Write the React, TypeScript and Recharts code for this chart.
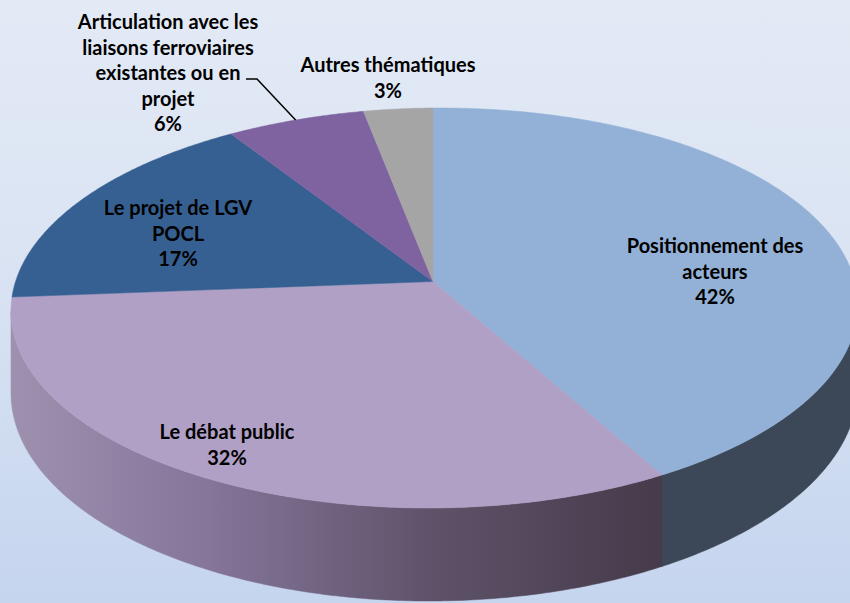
import React from 'react';
import { PieChart, Pie } from 'recharts';

// ---------------- data ----------------
const categoryLines: string[][] = [
  ['Positionnement des', 'acteurs'],
  ['Le débat public'],
  ['Le projet de LGV', 'POCL'],
  ['Articulation avec les', 'liaisons ferroviaires', 'existantes ou en', 'projet'],
  ['Autres thématiques'],
];
const shares = [42, 32, 17, 6, 3];

// ---------------- styles / layout ----------------
const topColors = ['#93b1d6', '#b1a0c6', '#366092', '#7f63a1', '#a5a5a5'];
const wallColors = ['#3c4858', 'url(#wallDebat)', '#24426a', '#55416e', '#6e6e6e'];
const labelAnchors: [number, number][] = [
  [715, 246],
  [227, 432],
  [178, 208],
  [168, 22],
  [388, 65],
];
const LINE_H = 25.5;
const FONT = 20;

const W = 850;
const H = 603;
const CX = 433;
const CY = 278;
const R = 420;
const DEPTH = 93;

// calibration of the tilted (perspective) view: rim angle -> screen point
const RIM_ANGLES = [90, 183.6, -61.2, -90];
const RIM_SCREEN: [number, number][] = [
  [433, 108],
  [12, 297],
  [662, 475],
  [433, 508],
];

function solveHomography() {
  const A: number[][] = [];
  const b: number[] = [];
  for (let i = 0; i < 4; i++) {
    const t = (RIM_ANGLES[i] * Math.PI) / 180;
    const u = Math.cos(t);
    const v = Math.sin(t);
    const x = (RIM_SCREEN[i][0] - CX) / R;
    const y = (RIM_SCREEN[i][1] - CY) / R;
    A.push([u, v, 1, 0, 0, 0, -u * x, -v * x]);
    b.push(x);
    A.push([0, 0, 0, u, v, 1, -u * y, -v * y]);
    b.push(y);
  }
  const n = 8;
  for (let c = 0; c < n; c++) {
    let p = c;
    for (let r = c + 1; r < n; r++) if (Math.abs(A[r][c]) > Math.abs(A[p][c])) p = r;
    [A[c], A[p]] = [A[p], A[c]];
    [b[c], b[p]] = [b[p], b[c]];
    for (let r = 0; r < n; r++) {
      if (r === c) continue;
      const f = A[r][c] / A[c][c];
      for (let k = c; k < n; k++) A[r][k] -= f * A[c][k];
      b[r] -= f * b[c];
    }
  }
  return b.map((val, i) => val / A[i][i]);
}
const HM = solveHomography();

function wOf(u: number, v: number) {
  return HM[6] * u + HM[7] * v + 1;
}
const W_FRONT = wOf(0, -1);

function project(cx: number, cy: number, r: number, angleDeg: number, frac: number, drop: number) {
  const t = (angleDeg * Math.PI) / 180;
  const u = Math.cos(t) * frac;
  const v = Math.sin(t) * frac;
  const w = wOf(u, v);
  const x = cx + (r * (HM[0] * u + HM[1] * v + HM[2])) / w;
  const y = cy + (r * (HM[3] * u + HM[4] * v + HM[5])) / w + (drop * W_FRONT) / w;
  return [x, y];
}

// silhouette tangent angles (extreme x of the rim)
function findTangents() {
  let minX = Infinity;
  let tl = 180;
  let maxX = -Infinity;
  let tr = 0;
  for (let a = 90; a <= 270; a += 0.25) {
    const [x] = project(CX, CY, R, a, 1, 0);
    if (x < minX) {
      minX = x;
      tl = a;
    }
  }
  for (let a = -90; a <= 90; a += 0.25) {
    const [x] = project(CX, CY, R, a, 1, 0);
    if (x > maxX) {
      maxX = x;
      tr = a;
    }
  }
  return [tl - 360, tr];
}
const FRONT = findTangents();

function arcPoints(cx: number, cy: number, r: number, a1: number, a2: number, drop: number) {
  const pts: number[][] = [];
  const steps = Math.max(2, Math.ceil(Math.abs(a2 - a1) / 0.5));
  for (let i = 0; i <= steps; i++) {
    const a = a1 + ((a2 - a1) * i) / steps;
    pts.push(project(cx, cy, r, a, 1, drop));
  }
  return pts;
}

function toPath(pts: number[][]) {
  return 'M' + pts.map((p) => `${p[0].toFixed(2)},${p[1].toFixed(2)}`).join('L') + 'Z';
}

const data = categoryLines.map((lines, i) => ({ name: lines.join(' '), value: shares[i] }));

function indexOf(props: any) {
  if (typeof props.index === 'number') return props.index;
  const name = props?.payload?.name ?? props?.name;
  return data.findIndex((d) => d.name === name);
}

function Slice3D(props: any) {
  const { cx, cy, outerRadius, startAngle, endAngle } = props;
  const i = indexOf(props);
  const lo = Math.min(startAngle, endAngle);
  const hi = Math.max(startAngle, endAngle);
  const wLo = Math.max(lo, FRONT[0]);
  const wHi = Math.min(hi, FRONT[1]);
  let wall = null;
  if (wHi > wLo) {
    const top = arcPoints(cx, cy, outerRadius, wLo, wHi, 0);
    const bottom = arcPoints(cx, cy, outerRadius, wHi, wLo, DEPTH);
    wall = <path d={toPath([...top, ...bottom])} fill={wallColors[i]} stroke={wallColors[i]} strokeWidth={0.5} />;
  }
  const center = project(cx, cy, outerRadius, 0, 0, 0);
  const rim = arcPoints(cx, cy, outerRadius, startAngle, endAngle, 0);
  return (
    <g>
      <defs>
        <linearGradient id="wallDebat" x1="0" y1="0" x2="1" y2="0">
          <stop offset="0%" stopColor="#9e91af" />
          <stop offset="30%" stopColor="#85769a" />
          <stop offset="65%" stopColor="#5e5269" />
          <stop offset="100%" stopColor="#453b4a" />
        </linearGradient>
      </defs>
      {wall}
      <path d={toPath([center, ...rim])} fill={topColors[i]} stroke={topColors[i]} strokeWidth={0.5} />
    </g>
  );
}

function SliceLabel(props: any) {
  const i = indexOf(props);
  if (i < 0) return null;
  const [x0, y0] = labelAnchors[i];
  const lines = [...categoryLines[i], `${shares[i]}%`];
  let leader = null;
  if (i === 3) {
    const end = project(props.cx, props.cy, props.outerRadius, props.midAngle, 1, 0);
    leader = (
      <polyline
        points={`${x0 + 78},${y0 + 57} ${x0 + 89},${y0 + 57} ${end[0].toFixed(1)},${end[1].toFixed(1)}`}
        fill="none"
        stroke="#000"
        strokeWidth={1.5}
      />
    );
  }
  return (
    <g>
      {leader}
      <text
        textAnchor="middle"
        fontFamily="Lato, 'Open Sans', sans-serif"
        fontWeight={700}
        fontSize={FONT}
        fill="#000"
      >
        {lines.map((l, k) => (
          <tspan key={k} x={x0} y={y0 + k * LINE_H + FONT * 0.36}>
            {l}
          </tspan>
        ))}
      </text>
    </g>
  );
}

export default function App() {
  return (
    <div
      style={{
        position: 'absolute',
        left: 0,
        top: 0,
        width: W,
        height: H,
        background: 'linear-gradient(180deg, #e3eaf6 0%, #dbe4f3 40%, #c5d5ee 100%)',
        overflow: 'hidden',
      }}
    >
      <PieChart width={W} height={H} margin={{ top: 0, right: 0, bottom: 0, left: 0 }}>
        <Pie
          data={data}
          dataKey="value"
          nameKey="name"
          cx={CX}
          cy={CY}
          innerRadius={0}
          outerRadius={R}
          startAngle={90}
          endAngle={-270}
          isAnimationActive={false}
          labelLine={false}
          label={SliceLabel}
          shape={Slice3D}
          stroke="none"
        />
      </PieChart>
    </div>
  );
}
